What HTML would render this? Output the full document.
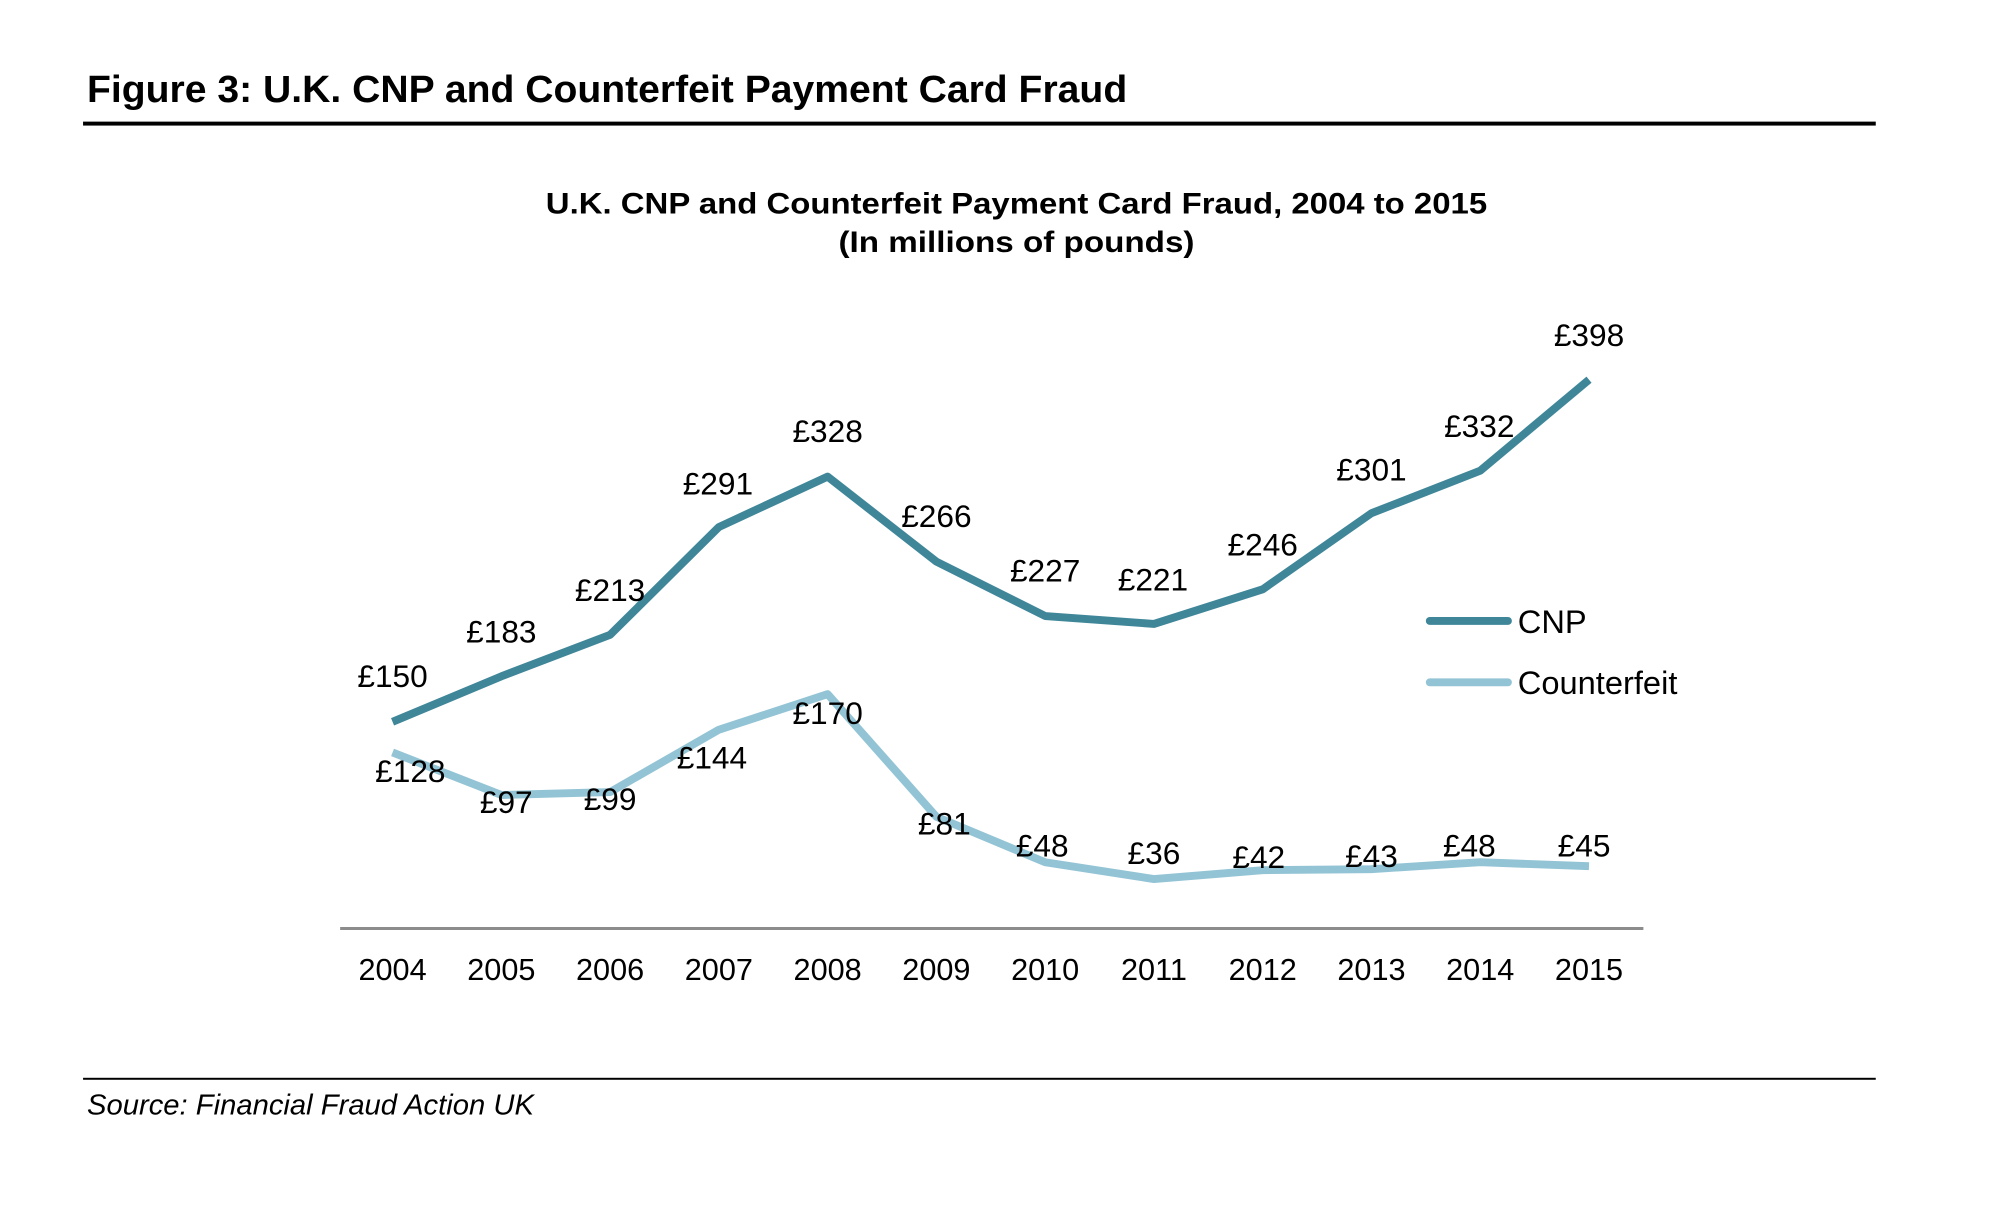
<!DOCTYPE html>
<html><head><meta charset="utf-8"><style>
html,body{margin:0;padding:0;background:#fff;}
svg{display:block;}
</style></head><body>
<svg width="2000" height="1224" xmlns="http://www.w3.org/2000/svg" font-family="Liberation Sans, Arial, sans-serif">
<g transform="scale(0.9888)">
<text x="88" y="103" font-size="38" font-weight="bold" textLength="1052" lengthAdjust="spacingAndGlyphs">Figure 3: U.K. CNP and Counterfeit Payment Card Fraud</text>
<rect x="84" y="123" width="1813" height="4" fill="#000"/>
<text x="1028" y="216" font-size="30" font-weight="bold" text-anchor="middle" textLength="952" lengthAdjust="spacingAndGlyphs">U.K. CNP and Counterfeit Payment Card Fraud, 2004 to 2015</text>
<text x="1028" y="255" font-size="30" font-weight="bold" text-anchor="middle" textLength="360" lengthAdjust="spacingAndGlyphs">(In millions of pounds)</text>
<line x1="344" y1="939" x2="1662" y2="939" stroke="#8c8c8c" stroke-width="3"/>
<g font-size="31" text-anchor="middle">
<text x="397" y="991">2004</text><text x="507" y="991">2005</text><text x="617" y="991">2006</text><text x="727" y="991">2007</text><text x="837" y="991">2008</text><text x="947" y="991">2009</text><text x="1057" y="991">2010</text><text x="1167" y="991">2011</text><text x="1277" y="991">2012</text><text x="1387" y="991">2013</text><text x="1497" y="991">2014</text><text x="1607" y="991">2015</text>
</g>
<polyline fill="none" stroke="#93c4d5" stroke-width="8" stroke-linejoin="round" points="397,761 507,804 617,801 727,738 837,702 947,826 1057,872 1167,889 1277,880 1387,879 1497,872 1607,876"/>
<polyline fill="none" stroke="#3f8699" stroke-width="8" stroke-linejoin="round" points="397,730 507,684 617,642 727,533 837,482 947,568 1057,623 1167,631 1277,596 1387,519 1497,476 1607,384"/>
<g font-size="32" text-anchor="middle">
<text x="397" y="695">£150</text><text x="507" y="650">£183</text><text x="617" y="608">£213</text><text x="726" y="500">£291</text><text x="837" y="447">£328</text><text x="947" y="533">£266</text><text x="1057" y="588">£227</text><text x="1166" y="597">£221</text><text x="1277" y="562">£246</text><text x="1387" y="486">£301</text><text x="1496" y="442">£332</text><text x="1607" y="350">£398</text>
<text x="415" y="791">£128</text><text x="512" y="822">£97</text><text x="617" y="819">£99</text><text x="720" y="777">£144</text><text x="837" y="732">£170</text><text x="955" y="844">£81</text><text x="1054" y="866">£48</text><text x="1167" y="874">£36</text><text x="1273" y="878">£42</text><text x="1387" y="877">£43</text><text x="1486" y="866">£48</text><text x="1602" y="866">£45</text>
</g>
<line x1="1446" y1="628" x2="1525" y2="628" stroke="#3f8699" stroke-width="8" stroke-linecap="round"/>
<line x1="1446" y1="690" x2="1525" y2="690" stroke="#93c4d5" stroke-width="8" stroke-linecap="round"/>
<text x="1535" y="640" font-size="33">CNP</text>
<text x="1535" y="702" font-size="33">Counterfeit</text>
<rect x="84" y="1090" width="1813" height="2" fill="#000"/>
<text x="88" y="1127" font-size="29" font-style="italic" textLength="452" lengthAdjust="spacingAndGlyphs">Source: Financial Fraud Action UK</text>
</g>
</svg>
</body></html>
